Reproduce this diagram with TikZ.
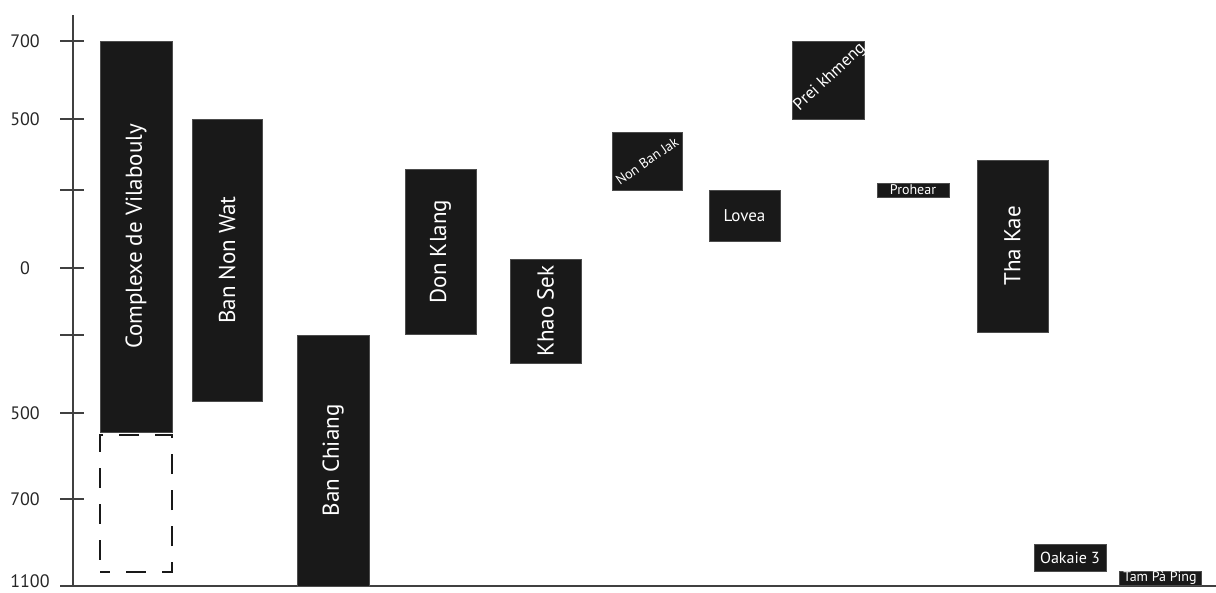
\documentclass[tikz,border=0pt]{standalone}
\usepackage{fontspec}
\setmainfont{PT Sans}
\usetikzlibrary{positioning}

\begin{document}
\begin{tikzpicture}[x=1pt, y=-1pt,
    site/.style={rectangle, draw=black!70, fill=black!90, text=white, inner sep=0pt, font=\fontsize{23}{23}\selectfont},
    midsite/.style={site, font=\fontsize{17}{17}\selectfont},
    smallsite/.style={site, font=\fontsize{14}{14}\selectfont},
    slanted/.style={text=white, inner sep=0pt},
    extension/.style={draw=black!90, line width=2.5pt, dash pattern=on 20pt off 16pt, dash phase=10pt, minimum width=72pt},
    axis/.style={draw=black!75, line width=1.2pt},
    ylab/.style={font=\fontsize{18}{18}\selectfont, text=black!85}
]
    \useasboundingbox (0,0) rectangle (1216,592);

    % axes
    \coordinate (ytop) at (73,15);
    \coordinate (origin) at (73,586);
    \coordinate (xstart) at (60,586);
    \coordinate (xend) at (1216,586);
    \draw[axis] (ytop) -- (origin);
    \draw[axis] (xstart) -- (xend);
    \foreach \y in {41,119,190,268,335,413,499}
        \draw[axis] (60,\y) -- (84,\y);
    \foreach \y/\t in {41/700,119/500,268/0,413/500,499/700}
        \node[ylab] (lab\y) at (25,\y) {\t};
    \node[ylab] (lab586) at (30,581) {1100};

    % sites
    \node[site, rotate=90, minimum width=391pt, minimum height=72pt] (vilabouly) at (136,236.5) {Complexe de Vilabouly};
    \node[extension, minimum height=137pt] (vilaboulyext) at (136,503.5) {};
    \node[site, rotate=90, minimum width=282pt, minimum height=70pt] (bannonwat) at (227,260) {Ban Non Wat};
    \node[site, rotate=90, minimum width=251pt, minimum height=72pt] (banchiang) at (333,460.5) {Ban Chiang};
    \node[site, rotate=90, minimum width=165pt, minimum height=71pt] (donklang) at (440.5,251.5) {Don Klang};
    \node[site, rotate=90, minimum width=104pt, minimum height=71pt] (khaosek) at (545.5,311) {Khao Sek};
    \node[site, minimum width=70pt, minimum height=58pt] (nonbanjak) at (647,161) {};
    \node[slanted, rotate=35, font=\fontsize{14}{14}\selectfont] (nonbanjaklab) at (nonbanjak) {Non Ban Jak};
    \node[midsite, minimum width=71pt, minimum height=51pt] (lovea) at (744.5,215.5) {Lovea};
    \node[site, minimum width=72pt, minimum height=78pt] (preikhmeng) at (828,80) {};
    \begin{scope}
        \clip (preikhmeng.south west) rectangle (preikhmeng.north east);
        \node[slanted, rotate=43, font=\fontsize{17}{17}\selectfont] (preikhmenglab) at (830,77) {Prei khmeng};
    \end{scope}
    \node[smallsite, minimum width=72pt, minimum height=14pt] (prohear) at (913,190) {Prohear};
    \node[site, rotate=90, minimum width=172pt, minimum height=71pt] (thakae) at (1012.5,246) {Tha Kae};
    \node[midsite, font=\fontsize{16}{16}\selectfont, minimum width=72pt, minimum height=27pt] (oakaie) at (1070,557.5) {Oakaie 3};
    \node[smallsite, minimum width=82pt, minimum height=14pt] (tampaping) at (1160,578) {Tam Pà Ping};
\end{tikzpicture}
\end{document}
